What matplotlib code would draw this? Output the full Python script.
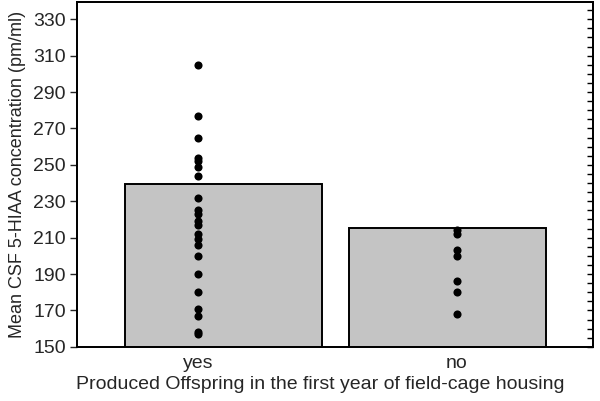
import matplotlib
matplotlib.use('Agg')
import matplotlib.pyplot as plt
from matplotlib.ticker import NullFormatter

# data
groups = ['yes', 'no']
bar_means = [239.5, 215.5]
yes_values = [305, 277, 265, 254, 252, 249, 244, 232, 225, 223, 219, 217,
              212, 209, 206, 200, 190, 180, 171, 167, 158, 157]
no_values = [214, 212, 203, 200, 186, 180, 168]

plt.rcParams['font.family'] = ['Liberation Sans', 'DejaVu Sans']
text_color = '#262626'

fig = plt.figure(figsize=(6.0, 4.01), dpi=100)
ax = fig.add_axes([0.128, 0.135, 0.86, 0.86])

# the bars sit a little off the category positions in the original
bar_offsets = [0.098, -0.035]
xs = list(range(len(groups)))
ax.bar([x + o for x, o in zip(xs, bar_offsets)], bar_means, width=0.76,
       bottom=0, color='#c4c4c4', edgecolor='black', linewidth=1.4, zorder=1)

for x, vals in zip(xs, [yes_values, no_values]):
    ax.scatter([x] * len(vals), vals, s=34, color='black', marker='o',
               linewidths=0, zorder=3)

ax.set_xlim(-0.467, 1.525)
ax.set_ylim(150, 339.5)
ax.set_xticks(xs)
ax.set_xticklabels(groups, fontsize=14, color=text_color)
ax.tick_params(axis='x', length=0, pad=6)
ax.set_yticks(range(150, 331, 20))
ax.tick_params(axis='y', which='major', direction='out', length=5, width=1,
               labelsize=14, colors=text_color, pad=3)

# right side: inward minor ticks every 5
ax2 = ax.twinx()
ax2.set_ylim(ax.get_ylim())
ax2.set_yticks(range(150, 336, 5))
ax2.yaxis.set_major_formatter(NullFormatter())
ax2.tick_params(axis='y', direction='in', length=4, width=1)

for a in (ax, ax2):
    for s in a.spines.values():
        s.set_linewidth(1.3)
        s.set_color('black')

ax.set_ylabel('Mean CSF 5-HIAA concentration (pm/ml)', fontsize=13,
              color=text_color, labelpad=5)
ax.set_xlabel('Produced Offspring in the first year of field-cage housing',
              fontsize=14, color=text_color, labelpad=3)
ax.xaxis.label.set_x(0.471)

fig.savefig('out.png', dpi=100)
